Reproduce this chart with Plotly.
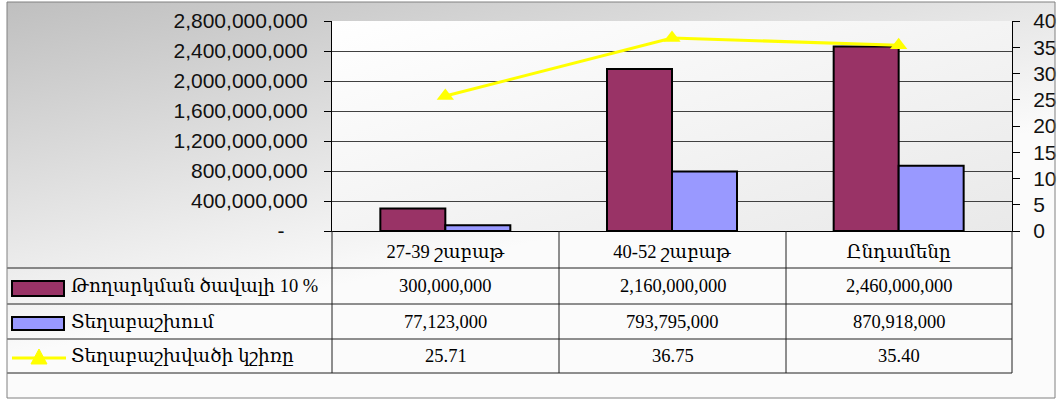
import base64
import plotly.graph_objects as go

# ---------------- data ----------------
categories = ["27-39 շաբաթ", "40-52 շաբաթ", "Ընդամենը"]
series_names = ["Թողարկման ծավալի 10 %", "Տեղաբաշխում", "Տեղաբաշխվածի կշիռը"]
issue_volume = [300000000, 2160000000, 2460000000]
placed = [77123000, 793795000, 870918000]
placed_share = [25.71, 36.75, 35.40]
left_tick_values = [0, 400000000, 800000000, 1200000000, 1600000000, 2000000000, 2400000000, 2800000000]
right_tick_values = [0, 5, 10, 15, 20, 25, 30, 35, 40]

# ---------------- styling ----------------
W, H = 1057, 402
PL, PR, PT, PB = 332, 1012, 21, 231  # plot area in pixels
MAROON, BLUE, YELLOW = "#993366", "#9999FF", "#FFFF00"
SANS = "Liberation Sans, Arial, sans-serif"
SERIF = "Liberation Serif, DejaVu Serif, Times New Roman, serif"


def px(x):
    return (x - PL) / (PR - PL)


def py(y):
    return (PB - y) / (PB - PT)


def svg_uri(svg):
    return "data:image/svg+xml;base64," + base64.b64encode(svg.encode("utf-8")).decode("ascii")


outer_svg = (
    '<svg xmlns="http://www.w3.org/2000/svg" width="1048" height="396" viewBox="0 0 1048 396" preserveAspectRatio="none">'
    '<defs><linearGradient id="g" gradientUnits="userSpaceOnUse" x1="0" y1="0" x2="75" y2="340">'
    '<stop offset="0" stop-color="#bfbfbf"/><stop offset="1" stop-color="#fbfbfb"/></linearGradient></defs>'
    '<rect x="0" y="0" width="1048" height="396" fill="url(#g)"/></svg>'
)
plot_svg = (
    '<svg xmlns="http://www.w3.org/2000/svg" width="680" height="210" viewBox="0 0 680 210" preserveAspectRatio="none">'
    '<defs><linearGradient id="p" x1="0" y1="0" x2="1" y2="1">'
    '<stop offset="0" stop-color="#ffffff"/><stop offset="1" stop-color="#e9e9e9"/></linearGradient></defs>'
    '<rect x="0" y="0" width="680" height="210" fill="url(#p)"/></svg>'
)

fig = go.Figure()

fig.add_trace(go.Bar(
    x=categories, y=issue_volume, name=series_names[0],
    marker=dict(color=MAROON, line=dict(color="black", width=2)),
    yaxis="y",
))
fig.add_trace(go.Bar(
    x=categories, y=placed, name=series_names[1],
    marker=dict(color=BLUE, line=dict(color="black", width=2)),
    yaxis="y",
))
fig.add_trace(go.Scatter(
    x=categories, y=placed_share, name=series_names[2],
    mode="lines+markers",
    line=dict(color=YELLOW, width=3),
    marker=dict(symbol="triangle-up", size=15, color=YELLOW),
    yaxis="y2", cliponaxis=False,
))

# ---------------- table (data table under the chart) ----------------
shapes = []
annotations = []
line_col = "#202020"
row_lines = [268, 304, 339, 373]
for yy in row_lines:
    shapes.append(dict(type="line", xref="paper", yref="paper", x0=px(7), x1=px(PR),
                       y0=py(yy), y1=py(yy), line=dict(color=line_col, width=1)))
for xx in [PL, 559, 786, PR]:
    shapes.append(dict(type="line", xref="paper", yref="paper", x0=px(xx), x1=px(xx),
                       y0=py(PB), y1=py(373), line=dict(color=line_col, width=1)))
# outer frame
shapes.append(dict(type="rect", xref="paper", yref="paper", x0=px(7), x1=px(1055),
                   y0=py(2), y1=py(398), line=dict(color="#808080", width=1), layer="above"))

# legend keys
shapes.append(dict(type="rect", xref="paper", yref="paper", x0=px(12), x1=px(64),
                   y0=py(281), y1=py(296), fillcolor=MAROON, line=dict(color="black", width=2)))
shapes.append(dict(type="rect", xref="paper", yref="paper", x0=px(12), x1=px(64),
                   y0=py(317), y1=py(330), fillcolor=BLUE, line=dict(color="black", width=2)))
shapes.append(dict(type="line", xref="paper", yref="paper", x0=px(12), x1=px(66),
                   y0=py(358), y1=py(358), line=dict(color=YELLOW, width=3)))
tri = "M {:.5f} {:.5f} L {:.5f} {:.5f} L {:.5f} {:.5f} Z".format(
    px(31), py(364), px(39), py(349), px(47), py(364))
shapes.append(dict(type="path", xref="paper", yref="paper", path=tri,
                   fillcolor=YELLOW, line=dict(color=YELLOW, width=1)))

row_centers = [286, 321.5, 356]
for name, yc in zip(series_names, row_centers):
    annotations.append(dict(xref="paper", yref="paper", x=px(69), y=py(yc), text=name,
                            showarrow=False, xanchor="left", yanchor="middle",
                            font=dict(family=SERIF, size=18.5, color="black")))

col_centers = [445.5, 672.5, 899]
rows_text = [
    [f"{v:,}" for v in issue_volume],
    [f"{v:,}" for v in placed],
    [f"{v:.2f}" for v in placed_share],
]
for texts, yc in zip(rows_text, row_centers):
    for t, xc in zip(texts, col_centers):
        annotations.append(dict(xref="paper", yref="paper", x=px(xc), y=py(yc), text=t,
                                showarrow=False, xanchor="center", yanchor="middle",
                                font=dict(family=SERIF, size=18.5, color="black")))

left_tick_text = [("-\u00a0\u00a0\u00a0\u00a0" if v == 0 else f"{v:,}") for v in left_tick_values]

fig.update_layout(
    width=W, height=H, autosize=False,
    margin=dict(l=PL, r=W - PR, t=PT, b=H - PB, pad=0, autoexpand=False),
    paper_bgcolor="white",
    plot_bgcolor="rgba(0,0,0,0)",
    showlegend=False,
    barmode="group",
    bargap=0.4265,
    bargroupgap=0,
    images=[
        dict(source=svg_uri(outer_svg), xref="paper", yref="paper", x=px(7), y=py(2),
             sizex=(1055 - 7) / (PR - PL), sizey=(398 - 2) / (PB - PT),
             xanchor="left", yanchor="top", sizing="stretch", layer="below"),
        dict(source=svg_uri(plot_svg), xref="paper", yref="paper", x=0, y=1,
             sizex=1, sizey=1, xanchor="left", yanchor="top", sizing="stretch", layer="below"),
    ],
    xaxis=dict(
        automargin=False,
        showline=True, linecolor="black", linewidth=1,
        ticks="", showgrid=False,
        tickfont=dict(family=SERIF, size=18.5, color="black"),
        ticklabelstandoff=4,
    ),
    yaxis=dict(
        automargin=False,
        range=[0, 2800000000],
        tickvals=left_tick_values, ticktext=left_tick_text,
        showline=True, linecolor="black", linewidth=1,
        ticks="outside", ticklen=7, tickcolor="black",
        showgrid=True, gridcolor="#404040", gridwidth=1,
        zeroline=False,
        tickfont=dict(family=SANS, size=21, color="#111111"),
        ticklabelstandoff=12,
    ),
    yaxis2=dict(
        automargin=False,
        range=[0, 40], overlaying="y", side="right",
        tickvals=right_tick_values,
        showline=True, linecolor="black", linewidth=1,
        ticks="outside", ticklen=7, tickcolor="black",
        showgrid=False, zeroline=False,
        tickfont=dict(family=SANS, size=21, color="#111111"),
        ticklabelstandoff=9,
    ),
    shapes=shapes,
    annotations=annotations,
)

fig.write_html("out.html", config={"displayModeBar": False},
               post_script="document.body.style.margin='0';")
